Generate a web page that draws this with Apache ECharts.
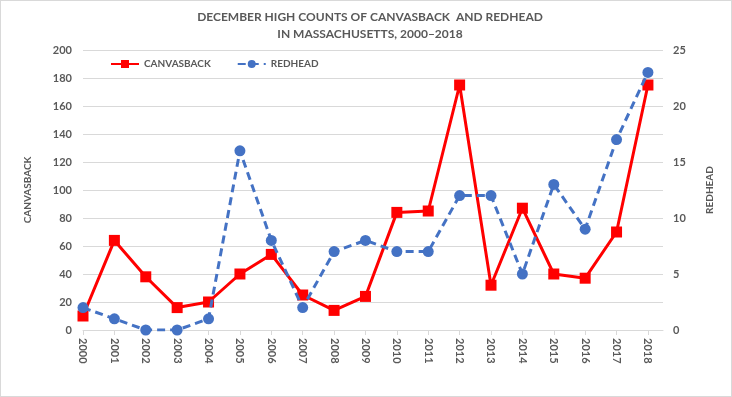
<!DOCTYPE html>
<html><head><meta charset="utf-8">
<script src="https://cdn.jsdelivr.net/npm/echarts@6/dist/echarts.min.js"></script>
<style>
html,body{margin:0;padding:0;background:#fff;}
#c{width:732px;height:397px;box-sizing:border-box;border:1px solid #d9d9d9;}
</style></head>
<body><div id="c"></div>
<script>
const years = [2000,2001,2002,2003,2004,2005,2006,2007,2008,2009,2010,2011,2012,2013,2014,2015,2016,2017,2018];
const canvasback = [10,64,38,16,20,40,54,25,14,24,84,85,175,32,87,40,37,70,175];
const redhead = [2,1,0,0,1,16,8,2,7,8,7,7,12,12,5,13,9,17,23];
const leftTicks = [0,20,40,60,80,100,120,140,160,180,200];
const rightTicks = [0,5,10,15,20,25];

const font = 'Lato, "Open Sans", sans-serif';
const grey = '#595959';
const chart = echarts.init(document.getElementById('c'), null, {renderer:'canvas'});
chart.setOption({
  animation:false,
  title:{
    text:'DECEMBER HIGH COUNTS OF CANVASBACK  AND REDHEAD\nIN MASSACHUSETTS, 2000\u20132018',
    left:364, textAlign:'center', top:3,
    textStyle:{fontFamily:font, fontSize:12, fontWeight:'bold', color:grey, lineHeight:17}
  },
  legend:{
    left:109, top:58, padding:0, itemWidth:28, itemHeight:10, itemGap:26,
    textStyle:{fontFamily:font, fontSize:10, fontWeight:'bold', color:grey},
    data:['CANVASBACK','REDHEAD']
  },
  grid:{left:82, top:49, width:580, height:280, containLabel:false},
  xAxis:{
    type:'value', min:2000, max:2018.48, interval:1,
    axisLine:{show:true, lineStyle:{color:'#d9d9d9', width:1}},
    axisTick:{show:true, length:5, lineStyle:{color:'#d9d9d9'}},
    splitLine:{show:false},
    axisLabel:{rotate:-90, margin:8, color:grey, fontFamily:font, fontSize:11, fontWeight:'bold',
      showMaxLabel:false,
      formatter:v=> (Number.isInteger(v) && years.indexOf(v)>=0) ? String(v) : ''}
  },
  yAxis:[{
    type:'value', min:leftTicks[0], max:leftTicks[leftTicks.length-1], interval:20,
    name:'CANVASBACK', nameLocation:'middle', nameRotate:90, nameGap:50,
    nameTextStyle:{fontFamily:font, fontSize:10, fontWeight:'bold', color:grey},
    axisLine:{show:false}, axisTick:{show:false},
    splitLine:{lineStyle:{color:'#d9d9d9', width:1}},
    axisLabel:{color:grey, fontFamily:font, fontSize:11, fontWeight:'bold', margin:11}
  },{
    type:'value', min:rightTicks[0], max:rightTicks[rightTicks.length-1], interval:5,
    name:'REDHEAD', nameLocation:'middle', nameRotate:90, nameGap:42,
    nameTextStyle:{fontFamily:font, fontSize:10, fontWeight:'bold', color:grey},
    axisLine:{show:false}, axisTick:{show:false}, splitLine:{show:false},
    axisLabel:{color:grey, fontFamily:font, fontSize:11, fontWeight:'bold', margin:10}
  }],
  series:[{
    name:'CANVASBACK', type:'line', yAxisIndex:0,
    data: years.map((y,i)=>[y, canvasback[i]]),
    symbol:'rect', symbolSize:11,
    lineStyle:{color:'#ff0000', width:3},
    itemStyle:{color:'#ff0000'}, z:2
  },{
    name:'REDHEAD', type:'line', yAxisIndex:1,
    data: years.map((y,i)=>[y, redhead[i]]),
    symbol:'circle', symbolSize:11,
    lineStyle:{color:'#4472c4', width:3, type:[8,5]},
    itemStyle:{color:'#4472c4'}, z:3
  }]
});
</script></body></html>
